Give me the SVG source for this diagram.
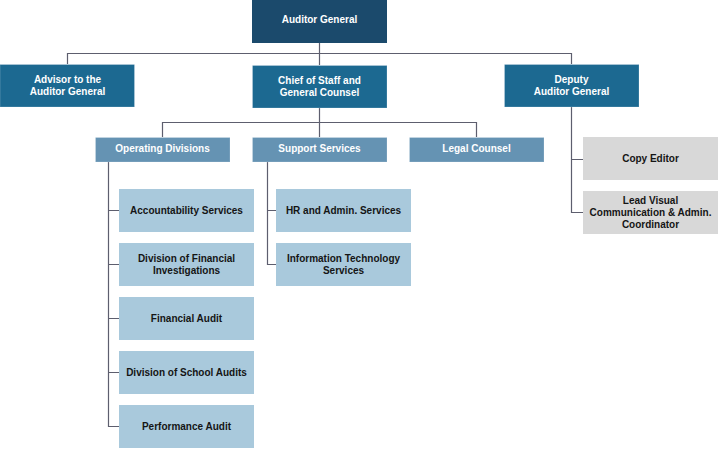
<svg xmlns="http://www.w3.org/2000/svg" width="718" height="449" viewBox="0 0 718 449">
<style>
text{font-family:"Liberation Sans",Arial,Helvetica,sans-serif;font-weight:bold;font-size:10px;text-anchor:middle}
.top{fill:#1b4a6c}
.l2{fill:#1c6991;stroke:#ffffff;stroke-opacity:0.22;stroke-width:1}
.l3{fill:#6593b3;stroke:#ffffff;stroke-opacity:0.2;stroke-width:1}
.l4{fill:#a9c9dc}
.gr{fill:#d8d8d8}
.w{fill:#ffffff}
.k{fill:#151515}
#connectors path{fill:none;stroke:#5d5e6e;stroke-width:1.2}
</style>
<rect width="718" height="449" fill="#ffffff"/>
<g id="connectors">
<path d="M319.5 43V65M67.5 64V53.5H571.5V64"/>
<path d="M319.5 108V137M162.5 137V122.5H476.5V137"/>
<path d="M108.5 162V426.5H119M108.5 210.5H119M108.5 264.5H119M108.5 318.5H119M108.5 372.5H119"/>
<path d="M267.5 162V264.5H276M267.5 210.5H276"/>
<path d="M571.5 107V212.5H583M571.5 159.5H583"/>
</g>
<g id="auditor-general"><rect class="top" x="252" y="0" width="135" height="43"/><text class="w" x="319.5" y="23">Auditor General</text></g>
<g id="advisor"><rect class="l2" x="0" y="64.5" width="134.5" height="42.5"/><text class="w" x="67.5" y="82.5">Advisor to the</text><text class="w" x="67.5" y="94.5">Auditor General</text></g>
<g id="chief-of-staff"><rect class="l2" x="252.5" y="65.5" width="134.5" height="42.5"/><text class="w" x="319.5" y="84">Chief of Staff and</text><text class="w" x="319.5" y="96">General Counsel</text></g>
<g id="deputy"><rect class="l2" x="504.5" y="64.5" width="134.5" height="42.5"/><text class="w" x="571.5" y="82.5">Deputy</text><text class="w" x="571.5" y="94.5">Auditor General</text></g>
<g id="operating-divisions"><rect class="l3" x="95.5" y="137.5" width="134.5" height="24.5"/><text class="w" x="162.5" y="152">Operating Divisions</text></g>
<g id="support-services"><rect class="l3" x="252.5" y="137.5" width="134.5" height="24.5"/><text class="w" x="319.5" y="152">Support Services</text></g>
<g id="legal-counsel"><rect class="l3" x="409.5" y="137.5" width="134.5" height="24.5"/><text class="w" x="476.5" y="152">Legal Counsel</text></g>
<g id="accountability"><rect class="l4" x="119" y="189" width="135" height="43"/><text class="k" x="186.5" y="214">Accountability Services</text></g>
<g id="financial-investigations"><rect class="l4" x="119" y="243" width="135" height="43"/><text class="k" x="186.5" y="261.5">Division of Financial</text><text class="k" x="186.5" y="273.5">Investigations</text></g>
<g id="financial-audit"><rect class="l4" x="119" y="297" width="135" height="43"/><text class="k" x="186.5" y="322">Financial Audit</text></g>
<g id="school-audits"><rect class="l4" x="119" y="351" width="135" height="43"/><text class="k" x="186.5" y="376">Division of School Audits</text></g>
<g id="performance-audit"><rect class="l4" x="119" y="405" width="135" height="43"/><text class="k" x="186.5" y="430">Performance Audit</text></g>
<g id="hr-admin"><rect class="l4" x="276" y="189" width="135" height="43"/><text class="k" x="343.5" y="214">HR and Admin. Services</text></g>
<g id="it-services"><rect class="l4" x="276" y="243" width="135" height="43"/><text class="k" x="343.5" y="262">Information Technology</text><text class="k" x="343.5" y="274">Services</text></g>
<g id="copy-editor"><rect class="gr" x="583" y="137" width="135" height="43"/><text class="k" x="650.5" y="161.5">Copy Editor</text></g>
<g id="lead-visual"><rect class="gr" x="583" y="191" width="135" height="43"/><text class="k" x="650.5" y="204">Lead Visual</text><text class="k" x="650.5" y="216">Communication &amp; Admin.</text><text class="k" x="650.5" y="228">Coordinator</text></g>
</svg>
